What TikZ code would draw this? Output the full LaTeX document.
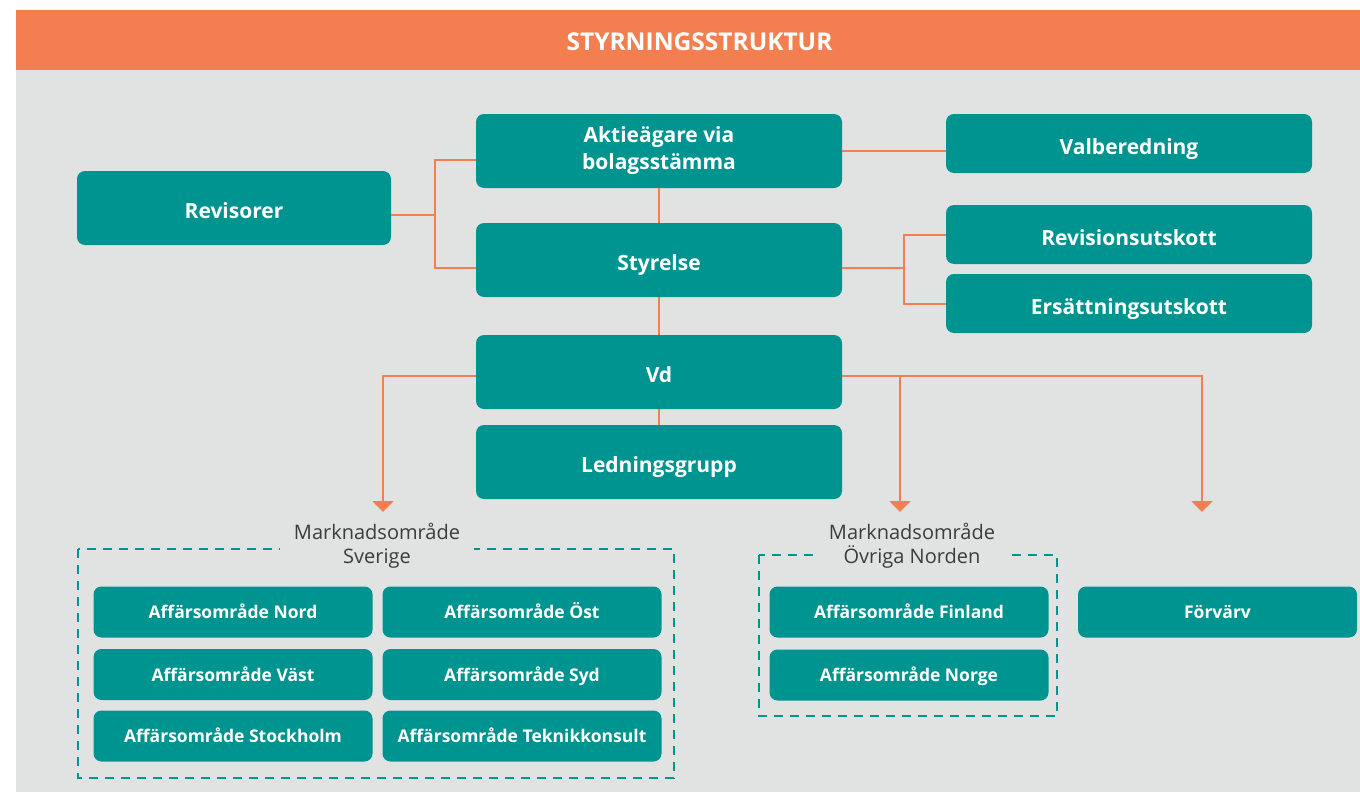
\documentclass[tikz,border=0pt]{standalone}
\usepackage{fontspec}
\setmainfont{Open Sans}
\usepackage{tikz}
\usetikzlibrary{arrows.meta}
\definecolor{petrol}{RGB}{0,148,144}
\definecolor{signal}{RGB}{243,127,80}
\definecolor{grund}{RGB}{225,227,226}
\definecolor{dunkel}{RGB}{60,60,60}

\begin{document}
\begin{tikzpicture}
     [
     x=1pt, y=-1pt,
     organ/.style = {fill=petrol, rounded corners=8pt, text=white, align=center,
       inner sep=0pt, minimum width=366pt, minimum height=74pt,
       text height=21pt, text depth=0pt,
       font=\fontsize{21}{27}\selectfont\bfseries},
     einheit/.style = {organ, minimum width=279pt, minimum height=51pt,
       text height=13.5pt, text depth=0pt,
       font=\fontsize{17.5}{20}\selectfont\bfseries},
     bereich/.style = {fill=grund, text=dunkel, align=center, inner xsep=14pt, inner ysep=0pt,
       font=\fontsize{20}{24}\selectfont},
     linie/.style = {draw=signal, line width=2pt},
     pfeil/.style = {linie, -{Triangle[width=21pt,length=11pt]}},
     rahmen/.style = {draw=petrol, line width=2pt, dash pattern=on 9pt off 7pt}
     ]

     \useasboundingbox (0,0) rectangle (1360,792);
     \fill[grund] (16,10) rectangle (1360,792);
     \fill[signal] (16,10) rectangle (1360,70);
     \node[text=white, font=\fontsize{24.5}{28}\selectfont\bfseries] (titel) at (699.5,42) {STYRNINGSSTRUKTUR};

     \draw (659,151) node[organ,text height=,text depth=] (aktie) {Aktieägare via\\bolagsstämma}
               (1129,143.5) node[organ,minimum height=59pt] (val) {Valberedning}
               (234,208) node[organ,minimum width=314pt] (rev) {Revisorer}
               (659,260) node[organ] (styr) {Styrelse}
               (1129,234.5) node[organ,minimum height=59pt] (revu) {Revisionsutskott}
               (1129,303.5) node[organ,minimum height=59pt] (ers) {Ersättningsutskott}
               (659,372) node[organ] (vd) {Vd}
               (659,462) node[organ] (led) {Ledningsgrupp}
     ;

     \coordinate (rk) at (435,215);
     \coordinate (sk) at (904,268);
     \coordinate (pilsve) at (383,512);
     \coordinate (pilnor) at (900,512);
     \coordinate (pilfor) at (1202,512);

     \draw[linie] ([yshift=-7pt]rev.east) -- (rk) (rk) |- ([yshift=-9pt]aktie.west)
     (rk) |- ([yshift=-8pt]styr.west);
     \draw[linie] (aktie.east) -- (aktie.east -| val.west);
     \draw[linie] (aktie) -- (styr) (styr) -- (vd) (vd) -- (led);
     \draw[linie] ([yshift=-8pt]styr.east) -- (sk) (revu.west) -| (sk) |- (ers.west);

     \draw[pfeil] ([yshift=-4pt]vd.west) -| (pilsve);
     \draw[pfeil] ([yshift=-4pt]vd.east) -| (pilfor);
     \draw[pfeil] ([yshift=-4pt]vd.east -| pilnor) -- (pilnor);

     % Marknadsområde Sverige
     \draw[rahmen] (78,549) rectangle (674,778);
     \node[bereich] (sve) at (377,546) {Marknadsområde\\Sverige};
     \draw (233,612) node[einheit] (nord) {Affärsområde Nord}
               (522,612) node[einheit] (ost) {Affärsområde Öst}
               (233,674.5) node[einheit] (vast) {Affärsområde Väst}
               (522,674.5) node[einheit] (syd) {Affärsområde Syd}
               (233,736) node[einheit] (sthlm) {Affärsområde Stockholm}
               (522,736) node[einheit] (tekn) {Affärsområde Teknikkonsult}
     ;

     % Marknadsområde Övriga Norden
     \draw[rahmen] (759,555) rectangle (1057,716);
     \node[bereich] (nor) at (912,546) {Marknadsområde\\Övriga Norden};
     \draw (909,612) node[einheit] (fin) {Affärsområde Finland}
               (909,675) node[einheit] (norge) {Affärsområde Norge}
               (1217.5,612) node[einheit] (forv) {Förvärv}
     ;
  \end{tikzpicture}
\end{document}
